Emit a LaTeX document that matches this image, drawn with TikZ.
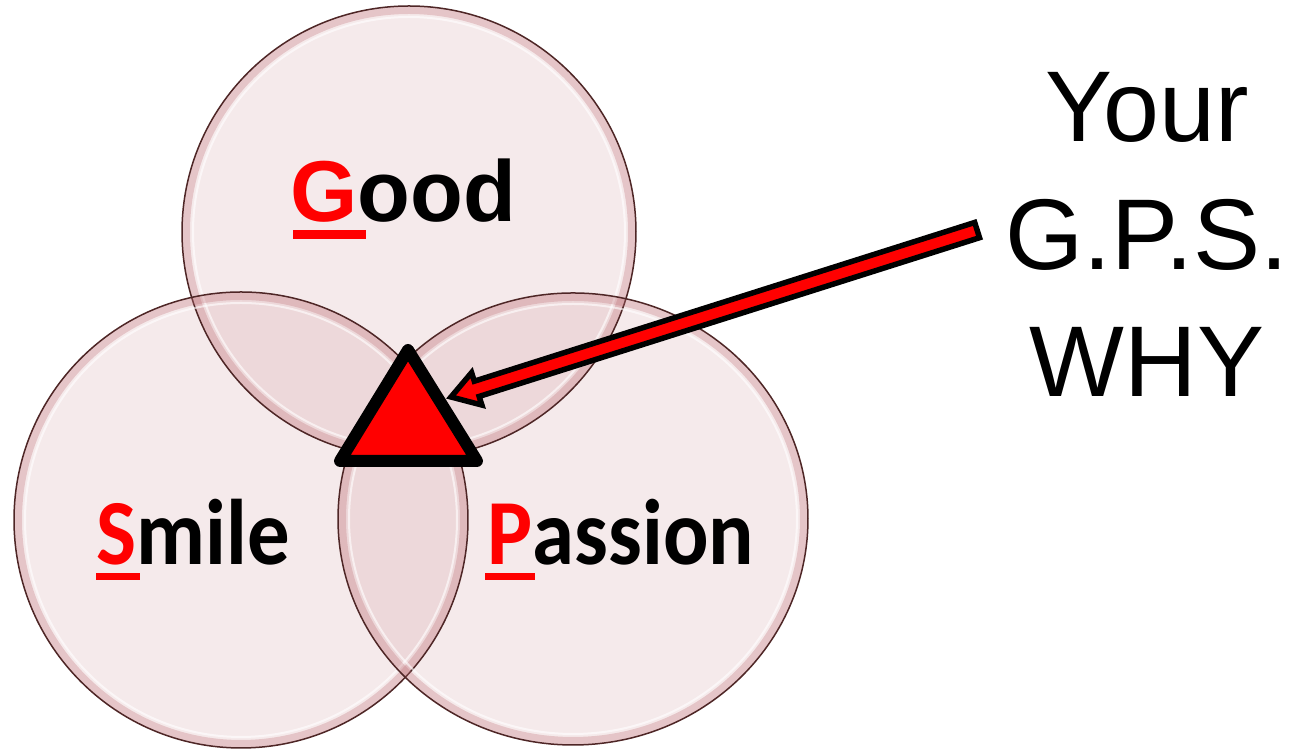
\documentclass[tikz,border=0pt]{standalone}
\usepackage{fontspec}
\usepackage{tikz}
\setmainfont{Liberation Sans}
\newfontfamily\calibri[FakeStretch=0.91]{Carlito}
\definecolor{bubble}{HTML}{C98A8E}
\definecolor{rim}{HTML}{4E2626}
\definecolor{glow}{HTML}{C07078}
\definecolor{gpsred}{HTML}{FF0000}

\begin{document}
\begin{tikzpicture}[x=0.1mm, y=-0.1mm,
    bubblefill/.style={fill=bubble, fill opacity=0.18},
    initbar/.style={fill=gpsred},
    word/.style={inner sep=0pt, anchor=base west},
    gpsline/.style={inner sep=0pt, anchor=base, font=\fontsize{28.6}{34}\selectfont},
    blockarrow/.style={draw=black, fill=gpsred, line width=0.55mm, line join=miter}]
  \useasboundingbox (0,0) rectangle (1305,751);

  % three bubbles: fills first, then rims
  \foreach \cx/\cy/\rx/\ry in {409/232/227/226, 241/520/227/228, 573/519/235/226}{
    \fill[bubblefill] (\cx,\cy) ellipse [x radius=\rx, y radius=\ry];
  }
  \foreach \cx/\cy/\rx/\ry in {409/232/227/226, 241/520/227/228, 573/519/235/226}{
    \draw[glow, draw opacity=0.3, line width=0.8mm] (\cx,\cy) ellipse [x radius=\rx-4, y radius=\ry-4];
    \draw[white, draw opacity=0.6, line width=0.2mm] (\cx,\cy) ellipse [x radius=\rx-11, y radius=\ry-11];
    \draw[rim, line width=0.15mm] (\cx,\cy) ellipse [x radius=\rx, y radius=\ry];
  }

  % words
  \node[word, font=\bfseries\fontsize{24.6}{30}\selectfont] (good) at (290,222) {\textcolor{gpsred}{G}ood};
  \node[word, font=\calibri\bfseries\fontsize{26.5}{32}\selectfont] (smile) at (96,565) {\textcolor{gpsred}{S}mile};
  \node[word, font=\calibri\bfseries\fontsize{26.5}{32}\selectfont] (passion) at (487,565) {\textcolor{gpsred}{P}assion};
  \fill[initbar] (293,230) rectangle (366,239);
  \fill[initbar] (96,573) rectangle (140,580);
  \fill[initbar] (485,573) rectangle (535,580);

  % triangle in the middle
  \draw[fill=gpsred, line width=1.2mm, line join=round] (408,350) -- (477,461) -- (340,461) -- cycle;

  % Your G.P.S. WHY
  \foreach \t/\y [count=\i] in {Your/142, G.P.S./270, WHY/397}{
    \node[gpsline] (gps\i) at (1147,\y) {\t};
  }

  % block arrow
  \coordinate (tip) at (451,397);
  \begin{scope}[shift={(tip)}, rotate=17.6]
    \draw[blockarrow] (0,0) -- (27,17) -- (27,8) -- (552,8) -- (552,-8) -- (27,-8) -- (27,-17) -- cycle;
  \end{scope}
\end{tikzpicture}
\end{document}
